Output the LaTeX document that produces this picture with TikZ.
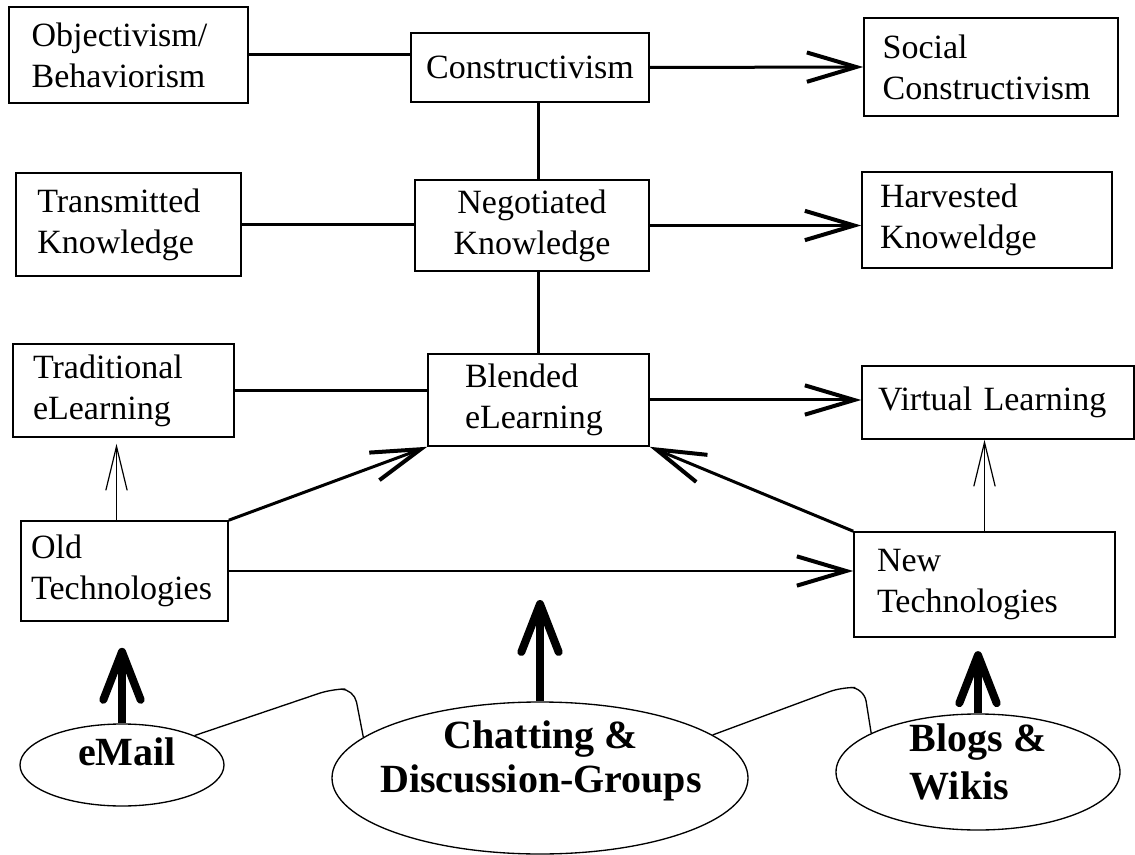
\documentclass[tikz,border=0pt]{standalone}
\usepackage{fontspec}
\setmainfont{Liberation Serif}
\usetikzlibrary{arrows.meta,shapes.geometric}

\tikzset{every picture/.style={line width=0.75pt}}
\tikzset{
  box/.style={draw, line width=1.2pt, inner sep=0pt, font=\fontsize{25.5}{30.75}\selectfont},
  bubble/.style={draw, ellipse, line width=1pt, inner sep=0pt},
  bubbletext/.style={inner sep=0pt, font=\fontsize{30}{33}\selectfont\bfseries},
  link/.style={line width=2.25pt},
  barb/.style={line width=2.25pt, -{Straight Barb[length=37pt,width=22pt,line width=3pt]}},
  thinbarb/.style={line width=0.9pt, -{Straight Barb[length=33pt,width=16pt]}},
  bigarrow/.style={line width=6pt, -{Straight Barb[length=36pt,width=28pt,round]}},
  joint/.style={line width=1pt, rounded corners=10pt},
}

\begin{document}
\begin{tikzpicture}[x=0.75pt,y=0.75pt,yscale=-1,xscale=1]
\useasboundingbox (0,0) rectangle (1135,855);

%Shape: Rectangle [theories]
\node[box, minimum width=179.25pt, minimum height=72pt, text width=145.25pt, align=left] (obj) at (128.5,55) {Objectivism/\\Behaviorism};
\node[box, minimum width=178.5pt, minimum height=51.75pt, align=center] (cons) at (530,67.5) {Constructivism};
\node[box, minimum width=190.5pt, minimum height=73.5pt, text width=162.5pt, align=left] (soc) at (991,67) {Social\\Constructivism};
%Shape: Rectangle [knowledge]
\node[box, minimum width=168.75pt, minimum height=77.25pt, text width=136.75pt, align=left] (trans) at (128.5,224.5) {Transmitted\\Knowledge};
\node[box, minimum width=175.5pt, minimum height=68.25pt, align=center] (neg) at (532,225.5) {Negotiated\\Knowledge};
\node[box, minimum width=187.5pt, minimum height=72pt, text width=160.5pt, align=left] (harv) at (987,220) {Harvested\\Knoweldge};
%Shape: Rectangle [learning]
\node[box, minimum width=165.75pt, minimum height=69.75pt, text width=135.75pt, align=left] (trad) at (123.5,390.5) {Traditional\\eLearning};
\node[box, minimum width=165.75pt, minimum height=69pt, text width=110.25pt, align=left] (blend) at (538.5,400) {Blended\\eLearning};
\node[box, minimum width=204pt, minimum height=54.75pt, text width=180pt, align=left] (virt) at (998,402.5) {Virtual Learning};
%Shape: Rectangle [technologies]
\node[box, minimum width=155.25pt, minimum height=75pt, text width=140pt, align=left] (oldt) at (124.5,571) {Old\\Technologies};
\node[box, minimum width=195.75pt, minimum height=78.75pt, text width=161.25pt, align=left] (newt) at (984.5,584.5) {New\\Technologies};

%Shape: Ellipse [tools]
\node[bubble, minimum width=153pt, minimum height=61.5pt] (email) at (122,765) {};
\node[bubble, minimum width=312pt, minimum height=114pt] (chat) at (540,778) {};
\node[bubble, minimum width=213pt, minimum height=87pt] (blogs) at (978,772) {};
% Text Node
\node[bubbletext] (emailtext) at (127,752) {eMail};
\node[bubbletext, align=center] (chattext) at (541,761) {Chatting \&\\Discussion-Groups};
\node[bubbletext, align=left, font=\fontsize{30}{36}\selectfont\bfseries] (blogstext) at (978,762) {Blogs \&\\Wikis};
\coordinate (chattop) at (540,600);

%Straight Lines [rows]
\draw[link] (obj.east) -- (obj.east -| cons.west);
\draw[barb] (cons.east) -- (soc.west);
\draw[link] (trans.east) -- (trans.east -| neg.west);
\draw[barb] (neg.east) -- (neg.east -| harv.west);
\draw[link] (trad.east) -- (trad.east -| blend.west);
\draw[barb] (blend.east) -- (blend.east -| virt.west);
%Straight Lines [middle column]
\draw[link] (cons.south -| blend.north) -- (neg.north -| blend.north);
\draw[link] (neg.south -| blend.north) -- (blend.north);
%Straight Lines [technologies]
\draw[thinbarb, shorten >=4.5pt] ([xshift=-6pt]oldt.north) -- ([xshift=-6pt]oldt.north |- trad.south);
\draw[barb] (oldt.north east) -- (blend.south west);
\draw[barb, line width=2pt] (oldt.east) -- (oldt.east -| newt.west);
\draw[barb] (newt.north west) -- (blend.south east);
\draw[thinbarb] (newt.north) -- (newt.north |- virt.south);
%Straight Lines [tools]
\draw[bigarrow, shorten >=19.5pt] (email.north) -- (email.north |- oldt.south);
\draw[bigarrow] (chat.north) -- (chattop);
\draw[bigarrow, shorten >=10pt] (blogs.north) -- (blogs.north |- newt.south);
%Curve Lines
\draw[joint] (email.north east) -- (332,689) -- (354,689) -- (chat.167);
\draw[joint] (chat.14) -- (842,687) -- (864,688) -- (blogs.160);

\end{tikzpicture}
\end{document}
